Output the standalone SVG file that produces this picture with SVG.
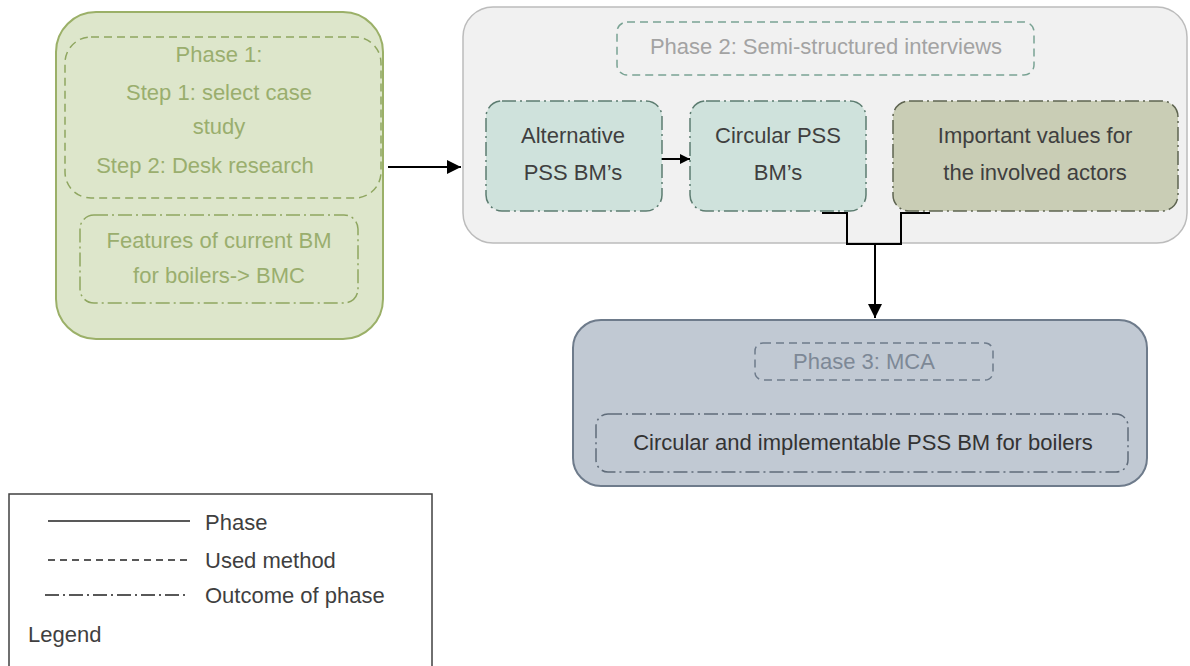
<svg xmlns="http://www.w3.org/2000/svg" width="1190" height="666" viewBox="0 0 1190 666">
  <style>
    text { font-family: "Liberation Sans", Arial, sans-serif; font-size: 22px; text-anchor: middle; }
    .dash { fill: none; stroke-width: 1.5; stroke-dasharray: 8 5; }
    .dashdot { stroke-width: 1.5; stroke-dasharray: 14 4 2 4; }
    .p1txt { fill: #9aae6e; }
    .dark { fill: #3f3f3f; }
    .conn { fill: none; stroke: #000; stroke-width: 2; }
    .legline { stroke: #222; stroke-width: 1.3; }
  </style>
  <defs>
    <marker id="head" viewBox="0 0 10 10" refX="10" refY="5" markerWidth="15" markerHeight="14" markerUnits="userSpaceOnUse" orient="auto">
      <path d="M0,0 L10,5 L0,10 z" fill="#000"/>
    </marker>
    <marker id="headSmall" viewBox="0 0 10 10" refX="10" refY="5" markerWidth="10" markerHeight="12" markerUnits="userSpaceOnUse" orient="auto">
      <path d="M0,0 L10,5 L0,10 z" fill="#000"/>
    </marker>
  </defs>

  <!-- Phase 1 -->
  <g id="phase1">
    <rect x="56" y="12" width="327" height="327" rx="40" fill="#dde6cb" stroke="#9bb068" stroke-width="2"/>
    <rect class="dash" x="65" y="37" width="316" height="161" rx="26" stroke="#8fa660"/>
    <text class="p1txt" x="219" y="62">Phase 1:</text>
    <text class="p1txt" x="219" y="100">Step 1: select case</text>
    <text class="p1txt" x="219" y="134">study</text>
    <text class="p1txt" x="205" y="173">Step 2: Desk research</text>
    <rect class="dashdot" x="80" y="215" width="278" height="88" rx="14" fill="none" stroke="#8fa660"/>
    <text class="p1txt" x="219" y="248">Features of current BM</text>
    <text class="p1txt" x="219" y="283">for boilers-&gt; BMC</text>
  </g>

  <!-- Phase 2 -->
  <g id="phase2">
    <rect x="463" y="7" width="724" height="236" rx="30" fill="#f1f1f1" stroke="#bcbcbc" stroke-width="1.5"/>
    <rect class="dash" x="617" y="22" width="417" height="53" rx="10" stroke="#7aa394"/>
    <text x="826" y="54" fill="#a3a3a3">Phase 2: Semi-structured interviews</text>
  </g>
  <g id="alternative">
    <rect class="dashdot" x="486" y="101" width="176" height="110" rx="16" fill="#cfe2dc" stroke="#5c7c70"/>
    <text class="dark" x="573" y="143">Alternative</text>
    <text class="dark" x="573" y="180">PSS BM’s</text>
  </g>
  <g id="circular">
    <rect class="dashdot" x="690" y="101" width="176" height="110" rx="16" fill="#cfe2dc" stroke="#5c7c70"/>
    <text class="dark" x="778" y="143">Circular PSS</text>
    <text class="dark" x="778" y="180">BM’s</text>
  </g>
  <g id="values">
    <rect class="dashdot" x="893" y="101" width="285" height="110" rx="16" fill="#c9cdb5" stroke="#5e6450"/>
    <text class="dark" x="1035" y="143">Important values for</text>
    <text class="dark" x="1035" y="180">the involved actors</text>
  </g>

  <!-- Phase 3 -->
  <g id="phase3">
    <rect x="573" y="320" width="574" height="166" rx="28" fill="#c1c9d3" stroke="#6e7b8b" stroke-width="2"/>
    <rect class="dash" x="755" y="343" width="238" height="37" rx="8" stroke="#6e7b8b"/>
    <text x="864" y="369" fill="#7d8896">Phase 3: MCA</text>
    <rect class="dashdot" x="596" y="414" width="532" height="58" rx="12" fill="none" stroke="#5f6b79"/>
    <text x="863" y="450" fill="#333">Circular and implementable PSS BM for boilers</text>
  </g>

  <!-- Connectors -->
  <g id="connectors">
    <line class="conn" x1="388" y1="167" x2="461" y2="167" marker-end="url(#head)"/>
    <line class="conn" x1="662" y1="159" x2="690" y2="159" marker-end="url(#headSmall)"/>
    <polyline class="conn" points="822,213 847,213 847,244 901,244 901,213 930,213"/>
    <line class="conn" x1="875" y1="244" x2="875" y2="318" marker-end="url(#head)"/>
  </g>

  <!-- Legend -->
  <g id="legend">
    <rect x="9" y="494" width="423" height="190" fill="#fff" stroke="#404040" stroke-width="1.5"/>
    <line class="legline" x1="48" y1="521" x2="190" y2="521" stroke-width="1.6"/>
    <line class="legline" x1="48" y1="560" x2="188" y2="560" stroke-dasharray="7 5"/>
    <line class="legline" x1="45" y1="595" x2="188" y2="595" stroke-dasharray="14 4 2 4"/>
    <text class="dark" x="205" y="530" style="text-anchor:start">Phase</text>
    <text class="dark" x="205" y="568" style="text-anchor:start">Used method</text>
    <text class="dark" x="205" y="603" style="text-anchor:start">Outcome of phase</text>
    <text class="dark" x="28" y="642" style="text-anchor:start">Legend</text>
  </g>
</svg>
